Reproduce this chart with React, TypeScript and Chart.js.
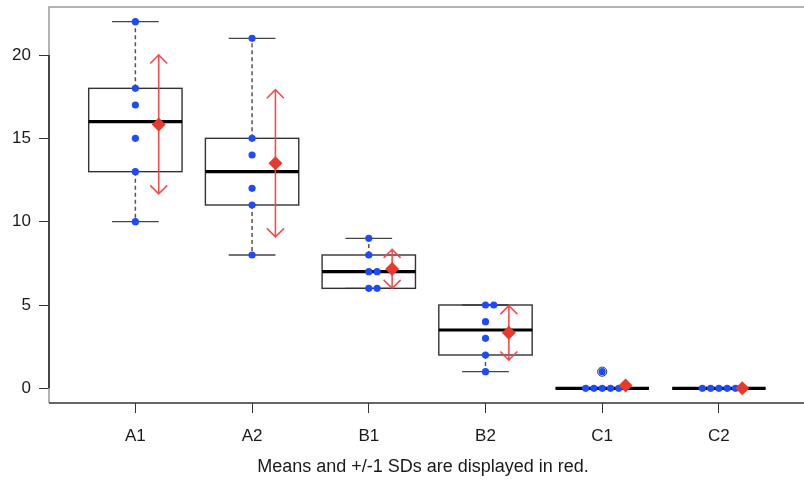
import React, { useEffect, useRef } from 'react';
import { Chart, registerables } from 'chart.js';

Chart.register(...registerables);

// ---- data ----
const categories = ['A1', 'A2', 'B1', 'B2', 'C1', 'C2'];
const valuesA1 = [22, 18, 17, 15, 13, 10];
const valuesA2 = [21, 15, 14, 12, 11, 8];
const valuesB1 = [9, 8, 7, 7, 6, 6];
const valuesB2 = [5, 5, 4, 3, 2, 1];
const valuesC1 = [1, 0, 0, 0, 0, 0];
const valuesC2 = [0, 0, 0, 0, 0, 0];
const groups = [valuesA1, valuesA2, valuesB1, valuesB2, valuesC1, valuesC2];
const yTicks = [0, 5, 10, 15, 20];
const caption = 'Means and +/-1 SDs are displayed in red.';

// ---- statistics (R-style boxplot.stats) ----
function fivenum(v: number[]) {
  const s = [...v].sort((a, b) => a - b);
  const n = s.length;
  const n4 = Math.floor((n + 3) / 2) / 2;
  const d = [1, n4, (n + 1) / 2, n + 1 - n4, n];
  return d.map((i) => 0.5 * (s[Math.floor(i) - 1] + s[Math.ceil(i) - 1]));
}
function stats(v: number[]) {
  const f = fivenum(v);
  const iqr = f[3] - f[1];
  const lo = f[1] - 1.5 * iqr;
  const hi = f[3] + 1.5 * iqr;
  const inside = v.filter((x) => x >= lo && x <= hi);
  const out = v.filter((x) => x < lo || x > hi);
  const mean = v.reduce((a, b) => a + b, 0) / v.length;
  const sd = Math.sqrt(v.reduce((a, b) => a + (b - mean) ** 2, 0) / (v.length - 1));
  return {
    q1: f[1], med: f[2], q3: f[3],
    wlo: Math.min(...inside), whi: Math.max(...inside),
    out, mean, sd,
  };
}
const groupStats = groups.map(stats);

// stacked offsets for tied values
const STACK = 0.071;
function stripPoints() {
  const pts: { x: number; y: number }[] = [];
  groups.forEach((g, gi) => {
    const counts: Record<string, number> = {};
    g.forEach((v) => (counts[v] = (counts[v] || 0) + 1));
    const seen: Record<string, number> = {};
    g.forEach((v) => {
      const k = seen[v] || 0;
      seen[v] = k + 1;
      const n = counts[v];
      const off = (k - Math.floor((n - 1) / 2)) * STACK;
      pts.push({ x: gi + 1 + off, y: v });
    });
  });
  return pts;
}
const MEAN_SHIFT = 0.2;
const meanPoints = groupStats.map((s, i) => ({ x: i + 1 + MEAN_SHIFT, y: s.mean }));

const FONT = '"Liberation Sans", Arial, Helvetica, sans-serif';

const boxPlugin = {
  id: 'boxes',
  beforeDatasetsDraw(chart: any) {
    const { ctx, chartArea } = chart;
    const x = chart.scales.x;
    const y = chart.scales.y;
    ctx.save();
    // frame (gray) and axis lines (dark)
    ctx.strokeStyle = '#9a9a9a';
    ctx.lineWidth = 1.5;
    ctx.beginPath();
    ctx.moveTo(chartArea.left, chartArea.bottom);
    ctx.lineTo(chartArea.left, chartArea.top);
    ctx.lineTo(x.getPixelForValue(6.744), chartArea.top);
    ctx.lineTo(x.getPixelForValue(6.744), chartArea.bottom);
    ctx.stroke();
    ctx.strokeStyle = '#333';
    ctx.lineWidth = 1.3;
    ctx.beginPath();
    ctx.moveTo(chartArea.left, chartArea.bottom);
    ctx.lineTo(x.getPixelForValue(6.744), chartArea.bottom);
    ctx.stroke();
    ctx.strokeStyle = '#222';
    ctx.lineWidth = 1.5;
    ctx.beginPath();
    ctx.moveTo(chartArea.left, y.getPixelForValue(yTicks[0]));
    ctx.lineTo(chartArea.left, y.getPixelForValue(yTicks[yTicks.length - 1]));
    ctx.stroke();

    groupStats.forEach((s, i) => {
      const cx = x.getPixelForValue(i + 1);
      const bl = x.getPixelForValue(i + 1 - 0.4);
      const br = x.getPixelForValue(i + 1 + 0.4);
      const cl = x.getPixelForValue(i + 1 - 0.2);
      const cr = x.getPixelForValue(i + 1 + 0.2);
      const yq1 = y.getPixelForValue(s.q1);
      const yq3 = y.getPixelForValue(s.q3);
      const ymed = y.getPixelForValue(s.med);
      const ylo = y.getPixelForValue(s.wlo);
      const yhi = y.getPixelForValue(s.whi);
      // whiskers (dashed)
      ctx.strokeStyle = '#555';
      ctx.lineWidth = 1.5;
      ctx.setLineDash([4, 3]);
      ctx.beginPath();
      if (s.whi > s.q3) { ctx.moveTo(cx, yq3); ctx.lineTo(cx, yhi); }
      if (s.wlo < s.q1) { ctx.moveTo(cx, yq1); ctx.lineTo(cx, ylo); }
      ctx.stroke();
      ctx.setLineDash([]);
      // caps
      ctx.strokeStyle = '#444';
      ctx.lineWidth = 1.3;
      ctx.beginPath();
      ctx.moveTo(cl, yhi); ctx.lineTo(cr, yhi);
      ctx.moveTo(cl, ylo); ctx.lineTo(cr, ylo);
      ctx.stroke();
      // box
      ctx.strokeStyle = '#333';
      ctx.lineWidth = 1.4;
      ctx.strokeRect(bl, yq3, br - bl, yq1 - yq3);
      // median
      ctx.strokeStyle = '#000';
      ctx.lineWidth = 3.2;
      ctx.beginPath();
      ctx.moveTo(bl, ymed); ctx.lineTo(br, ymed);
      ctx.stroke();
      // outliers
      ctx.strokeStyle = '#333';
      ctx.lineWidth = 1;
      s.out.forEach((o) => {
        ctx.beginPath();
        ctx.arc(cx, y.getPixelForValue(o), 4.6, 0, Math.PI * 2);
        ctx.stroke();
      });
    });
    ctx.restore();
  },
  afterDatasetDraw(chart: any, args: any) {
    if (args.index !== 1) return;
    const { ctx } = chart;
    const x = chart.scales.x;
    const y = chart.scales.y;
    ctx.save();
    ctx.strokeStyle = 'rgba(238,70,70,0.95)';
    ctx.lineWidth = 1.6;
    const h = 8.5;
    groupStats.forEach((s, i) => {
      const ax = x.getPixelForValue(i + 1 + MEAN_SHIFT);
      const yt = y.getPixelForValue(s.mean + s.sd);
      const yb = y.getPixelForValue(s.mean - s.sd);
      if (yb - yt < 20) return;
      ctx.beginPath();
      ctx.moveTo(ax, yb); ctx.lineTo(ax, yt);
      ctx.moveTo(ax - h, yt + h); ctx.lineTo(ax, yt); ctx.lineTo(ax + h, yt + h);
      ctx.moveTo(ax - h, yb - h); ctx.lineTo(ax, yb); ctx.lineTo(ax + h, yb - h);
      ctx.stroke();
    });
    ctx.restore();
  },
};

export default function App() {
  const ref = useRef<HTMLCanvasElement>(null);
  useEffect(() => {
    if (!ref.current) return;
    const chart = new Chart(ref.current, {
      type: 'scatter',
      data: {
        datasets: [
          {
            label: 'mean',
            data: meanPoints,
            pointStyle: 'rectRot',
            pointRadius: 7,
            backgroundColor: '#e8392c',
            borderWidth: 0,
            order: 0,
          },
          {
            label: 'values',
            data: stripPoints(),
            pointStyle: 'circle',
            pointRadius: 3.6,
            backgroundColor: '#1f4bff',
            borderWidth: 0,
            order: 1,
          },
        ],
      },
      options: {
        responsive: false,
        animation: false,
        devicePixelRatio: 1,
        events: [],
        layout: { padding: { top: 7, right: 0, left: 0, bottom: 0 } },
        plugins: { legend: { display: false }, tooltip: { enabled: false }, title: { display: false } },
        scales: {
          x: {
            type: 'linear',
            min: 0.26,
            max: 6.669,
            border: { display: false },
            grid: { display: true, drawOnChartArea: false, drawTicks: true, tickLength: 10, color: '#333', lineWidth: 1 },
            afterBuildTicks: (scale: any) => {
              scale.ticks = categories.map((_, i) => ({ value: i + 1 }));
            },
            afterFit: (scale: any) => {
              scale.height = 87;
              scale.paddingLeft = 0;
              scale.paddingRight = 0;
            },
            ticks: {
              callback: (v: any) => categories[Number(v) - 1] ?? '',
              font: { family: FONT, size: 17 },
              color: '#1a1a1a',
              padding: 13,
              maxRotation: 0,
              autoSkip: false,
            },
            title: {
              display: true,
              text: caption,
              font: { family: FONT, size: 18 },
              color: '#1a1a1a',
              padding: { top: 0, bottom: 12 },
            },
          },
          y: {
            type: 'linear',
            min: -0.88,
            max: 22.88,
            border: { display: false },
            grid: { display: true, drawOnChartArea: false, drawTicks: true, tickLength: 10, color: '#333', lineWidth: 1 },
            afterBuildTicks: (scale: any) => {
              scale.ticks = yTicks.map((v) => ({ value: v }));
            },
            afterFit: (scale: any) => {
              scale.width = 49;
              scale.paddingTop = 0;
              scale.paddingBottom = 0;
            },
            ticks: {
              font: { family: FONT, size: 17 },
              color: '#1a1a1a',
              padding: 8,
            },
          },
        },
      },
      plugins: [boxPlugin],
    });
    return () => chart.destroy();
  }, []);
  return (
    <div style={{ position: 'absolute', left: 0, top: 0, width: 804, height: 490, background: '#fff' }}>
      <canvas ref={ref} width={804} height={490} style={{ display: 'block' }} />
    </div>
  );
}
